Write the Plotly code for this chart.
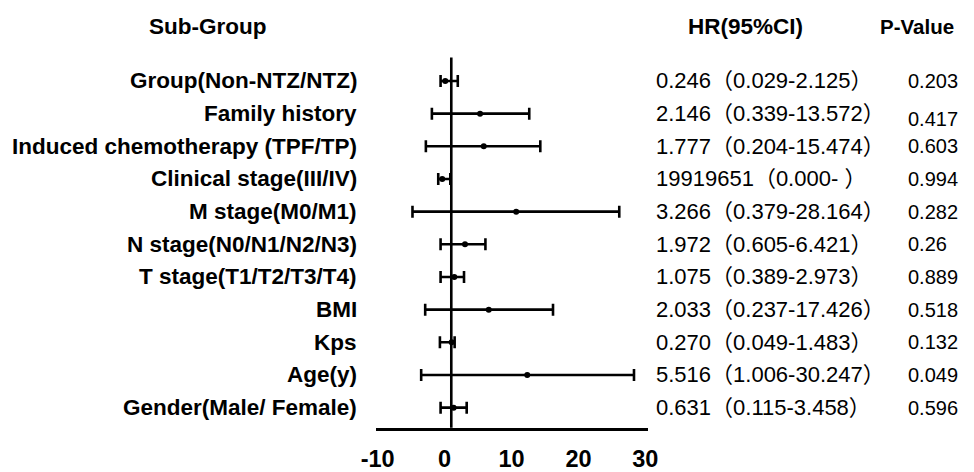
import plotly.graph_objects as go

# ---- data ----
labels = ["Group(Non-NTZ/NTZ)", "Family history", "Induced chemotherapy (TPF/TP)",
          "Clinical stage(III/IV)", "M stage(M0/M1)", "N stage(N0/N1/N2/N3)",
          "T stage(T1/T2/T3/T4)", "BMI", "Kps", "Age(y)", "Gender(Male/ Female)"]
points = [0.1, 5.3, 5.85, -0.35, 10.7, 3.05, 1.45, 6.6, 1.05, 12.35, 1.35]
lower = [-0.6, -1.9, -2.8, -0.95, -4.8, -0.6, -0.6, -2.9, -0.7, -3.5, -0.6]
upper = [1.97, 12.65, 14.3, 0.85, 26.1, 6.1, 2.9, 16.2, 1.5, 28.3, 3.3]
hr_text = ["0.246（0.029-2.125）", "2.146（0.339-13.572）", "1.777（0.204-15.474）",
           "19919651（0.000- ）", "3.266（0.379-28.164）", "1.972（0.605-6.421）",
           "1.075（0.389-2.973）", "2.033（0.237-17.426）", "0.270（0.049-1.483）",
           "5.516（1.006-30.247）", "0.631（0.115-3.458）"]
p_text = ["0.203", "0.417", "0.603", "0.994", "0.282", "0.26", "0.889",
          "0.518", "0.132", "0.049", "0.596"]
tick_vals = [-10, 0, 10, 20, 30]
ref_value = 1

rows = list(range(len(labels), 0, -1))  # top row = 11
p_nudge = {"0.417": -5}  # small vertical offset seen in the reference

# page has an 8px body margin; figure drawn inside it
OFF = 8
W, H = 974 - OFF, 472 - OFF


def fx(px):
    return (px - OFF) / W


def fy(py):
    return 1 - (py - OFF) / H


BOLD = "Liberation Sans, Arial, sans-serif"
REG = "Liberation Sans, Arial, Noto Sans CJK SC, sans-serif"

fig = go.Figure()
fig.add_trace(go.Scatter(
    x=points, y=rows, mode="markers",
    marker=dict(color="black", size=6),
    error_x=dict(type="data", symmetric=False,
                 array=[u - p for u, p in zip(upper, points)],
                 arrayminus=[p - l for p, l in zip(points, lower)],
                 color="black", thickness=2.6, width=6),
    showlegend=False, hoverinfo="skip",
))

fig.add_shape(type="line", xref="x", yref="y domain", x0=ref_value, x1=ref_value,
              y0=0, y1=1, line=dict(color="black", width=2.6))

ann = []
for r, lab, hr, p in zip(rows, labels, hr_text, p_text):
    ann.append(dict(x=fx(353), xref="paper", y=r, yref="y", text=lab, showarrow=False,
                    xanchor="right", yanchor="middle",
                    font=dict(family=BOLD, size=22.5, color="black", weight="bold")))
    ann.append(dict(x=fx(656), xref="paper", y=r, yref="y", text=hr, showarrow=False,
                    xanchor="left", yanchor="middle",
                    font=dict(family=REG, size=22, color="black")))
    ann.append(dict(x=fx(914), xref="paper", y=r, yref="y", text=p, showarrow=False,
                    xanchor="left", yanchor="middle", yshift=p_nudge.get(p, 0),
                    font=dict(family=REG, size=20, color="black")))

for txt, cx, fs in [("Sub-Group", 197, 22.5), ("HR(95%CI)", 750, 22.5), ("P-Value", 926, 20.5)]:
    ann.append(dict(x=fx(cx), xref="paper", y=fy(27), yref="paper", text=txt,
                    showarrow=False, xanchor="center", yanchor="middle",
                    font=dict(family=BOLD, size=fs, color="black", weight="bold")))

x0_px, x1_px, zero_px, ppu = 370, 650, 440.8, 6.87
fig.update_layout(
    width=W, height=H,
    margin=dict(l=0, r=0, t=0, b=0),
    paper_bgcolor="white", plot_bgcolor="white",
    annotations=ann,
    xaxis=dict(domain=[fx(x0_px), fx(x1_px)],
               range=[(x0_px - zero_px) / ppu, (x1_px - zero_px) / ppu],
               tickvals=tick_vals, ticktext=[str(v) for v in tick_vals],
               showgrid=False, zeroline=False, showline=True,
               linecolor="black", linewidth=2.6,
               ticks="outside", ticklen=8, tickcolor="rgba(0,0,0,0)",
               tickfont=dict(family=BOLD, size=23.5, color="black", weight="bold")),
    yaxis=dict(domain=[fy(432.3), fy(58)], range=[0.385, 11.72],
               showgrid=False, zeroline=False, showline=False,
               showticklabels=False, ticks=""),
)

fig.write_html("out.html")
